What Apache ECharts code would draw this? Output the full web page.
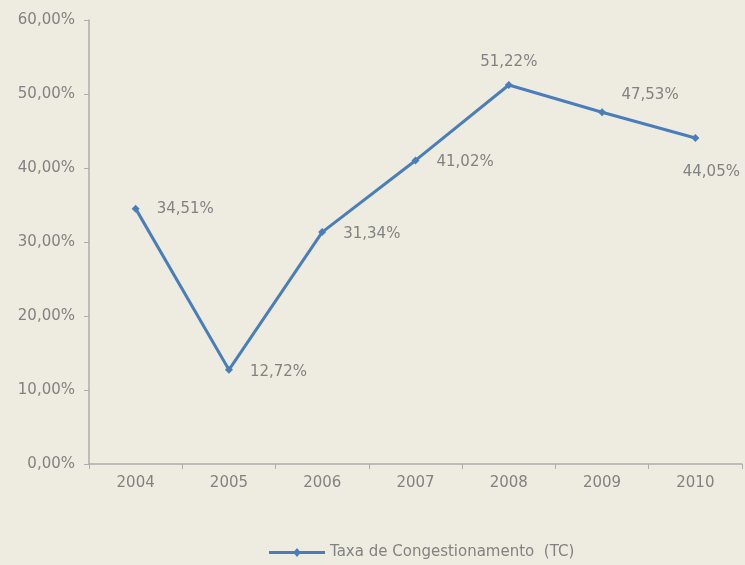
<!DOCTYPE html>
<html>
<head>
<meta charset="utf-8">
<script src="https://cdn.jsdelivr.net/npm/echarts@6/dist/echarts.min.js"></script>
<style>
  html, body { margin: 0; padding: 0; background: #EEEBE0; }
  #chart { width: 745px; height: 565px; }
</style>
</head>
<body>
<div id="chart"></div>
<script>
var years = ['2004', '2005', '2006', '2007', '2008', '2009', '2010'];
var taxa = [34.51, 12.72, 31.34, 41.02, 51.22, 47.53, 44.05];
var yTicks = [0, 10, 20, 30, 40, 50, 60];

// onde cada rótulo fica em relação ao ponto
var labelPlace = [
  { position: 'right', offset: [12, 0] },
  { position: 'right', offset: [12, 2] },
  { position: 'right', offset: [12, 2] },
  { position: 'right', offset: [12, 2] },
  { position: 'top', offset: [0, -6] },
  { position: 'top', offset: [48, -1] },
  { position: 'bottom', offset: [16, 18] }
];

function fmtPct(v) {
  return v.toFixed(2).replace('.', ',') + '%';
}

var font = 'DejaVu Sans';
var grey = '#828282';
var fs = 15;

var chart = echarts.init(document.getElementById('chart'));
chart.setOption({
  backgroundColor: '#EEEBE0',
  animation: false,
  textStyle: { fontFamily: font },
  grid: { left: 89, right: 3, top: 20, bottom: 101, containLabel: false },
  xAxis: {
    type: 'category',
    data: years,
    boundaryGap: true,
    axisLine: { lineStyle: { color: '#ADADAD', width: 1.5 } },
    axisTick: { show: true, length: 5, inside: false, lineStyle: { color: '#ADADAD' } },
    axisLabel: { color: grey, fontSize: fs, margin: 12, fontFamily: font }
  },
  yAxis: {
    type: 'value',
    min: yTicks[0],
    max: yTicks[yTicks.length - 1],
    interval: 10,
    axisLine: { show: true, lineStyle: { color: '#ADADAD', width: 1.5 } },
    axisTick: { show: true, length: 5, lineStyle: { color: '#ADADAD' } },
    splitLine: { show: false },
    axisLabel: {
      color: grey, fontSize: fs, margin: 14, fontFamily: font,
      formatter: function (v) { return fmtPct(v); }
    }
  },
  legend: {
    bottom: 0,
    left: 264,
    itemWidth: 56,
    itemHeight: 10,
    itemGap: 4,
    textStyle: { color: grey, fontSize: fs, fontFamily: font },
    data: [{ name: 'Taxa de Congestionamento  (TC)', icon: 'path://M0,3.6 L25.5,3.6 L28,0.5 L30.5,3.6 L56,3.6 L56,6.4 L30.5,6.4 L28,9.5 L25.5,6.4 L0,6.4 Z' }]
  },
  series: [{
    name: 'Taxa de Congestionamento  (TC)',
    type: 'line',
    symbol: 'diamond',
    symbolSize: 8,
    showAllSymbol: true,
    lineStyle: { color: '#4A7EBB', width: 3 },
    itemStyle: { color: '#4A7EBB' },
    data: taxa.map(function (v, i) {
      return {
        value: v,
        label: {
          show: true,
          position: labelPlace[i].position,
          offset: labelPlace[i].offset,
          color: grey,
          fontSize: fs,
          fontFamily: font,
          formatter: function (p) { return fmtPct(p.value); }
        }
      };
    })
  }]
});
</script>
</body>
</html>
